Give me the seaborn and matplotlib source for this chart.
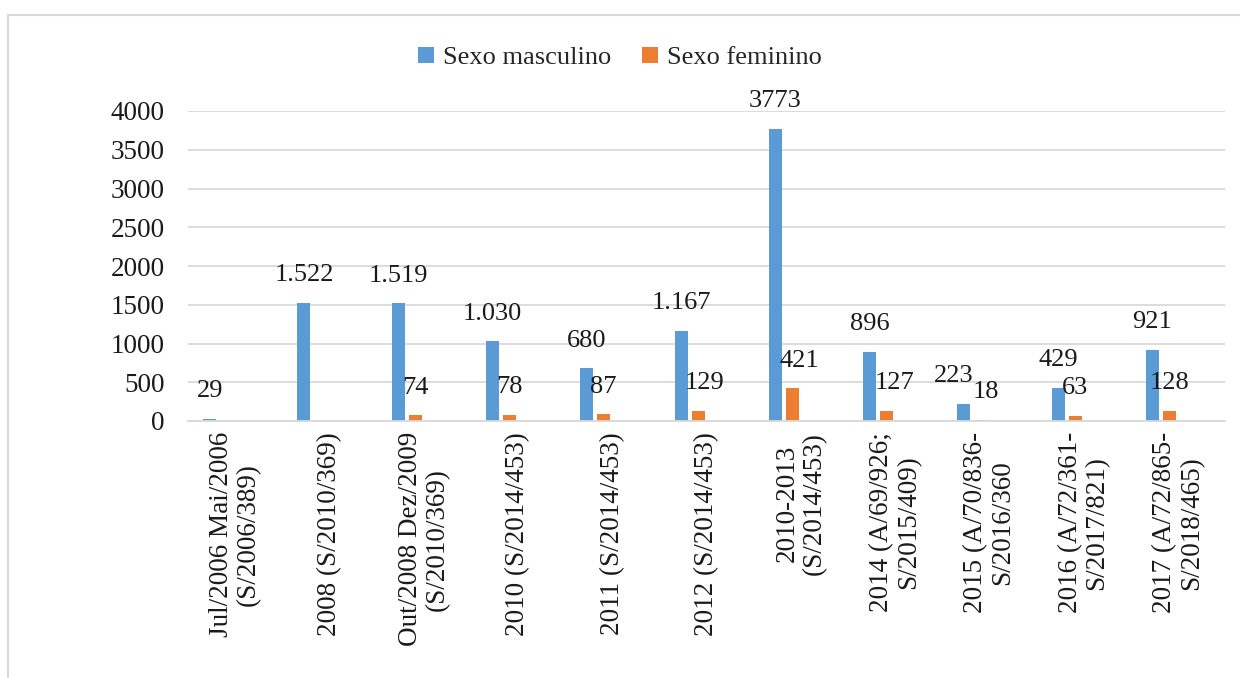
import numpy as np
import pandas as pd
import matplotlib
matplotlib.use("Agg")
import matplotlib.pyplot as plt
from matplotlib.lines import Line2D
from matplotlib.patches import Patch
import seaborn as sns

categories = [
    "Jul/2006 Mai/2006\n(S/2006/389)",
    "2008 (S/2010/369)",
    "Out/2008 Dez/2009\n(S/2010/369)",
    "2010 (S/2014/453)",
    "2011 (S/2014/453)",
    "2012 (S/2014/453)",
    "2010-2013\n(S/2014/453)",
    "2014 (A/69/926;\nS/2015/409)",
    "2015 (A/70/836-\nS/2016/360",
    "2016 (A/72/361-\nS/2017/821)",
    "2017 (A/72/865-\nS/2018/465)",
]
masculino = [29, 1522, 1519, 1030, 680, 1167, 3773, 896, 223, 429, 921]
feminino = [np.nan, np.nan, 74, 78, 87, 129, 421, 127, 18, 63, 128]
masculino_labels = ["29", "1.522", "1.519", "1.030", "680", "1.167", "3773",
                    "896", "223", "429", "921"]
feminino_labels = ["", "", "74", "78", "87", "129", "421", "127", "18", "63", "128"]
series_names = ["Sexo masculino", "Sexo feminino"]
colors = ["#5B9BD5", "#ED7D31"]
yticks = [0, 500, 1000, 1500, 2000, 2500, 3000, 3500, 4000]

df = pd.concat([
    pd.DataFrame({"periodo": categories, "sexo": series_names[0], "valor": masculino}),
    pd.DataFrame({"periodo": categories, "sexo": series_names[1], "valor": feminino}),
], ignore_index=True)

sns.set_theme(style="white")
plt.rcParams["font.family"] = ["Liberation Serif", "DejaVu Serif"]

fig = plt.figure(figsize=(12.4, 6.78), dpi=100)
ax = fig.add_axes([188 / 1240, 1 - 421 / 678, (1225 - 188) / 1240, (421 - 111) / 678])

# two extra (empty) slots in each cluster keep the clustered spacing
hue_order = series_names + [" ", "  "]
palette = {series_names[0]: colors[0], series_names[1]: colors[1], " ": "white", "  ": "white"}
sns.barplot(data=df, x="periodo", y="valor", hue="sexo", hue_order=hue_order,
            order=categories, palette=palette, width=0.72, gap=0.235,
            errorbar=None, saturation=1, legend=False, linewidth=0, ax=ax)

ax.set_ylim(0, 4000)
ax.set_xlim(-0.5, len(categories) - 0.5)
ax.set_yticks(yticks)
ax.set_yticklabels([str(v) for v in yticks], fontsize=19.5, color="#1a1a1a")
ax.yaxis.grid(True, color="#D9D9D9", linewidth=1.3)
ax.set_axisbelow(True)
for s in ["top", "right", "left"]:
    ax.spines[s].set_visible(False)
ax.spines["bottom"].set_color("#D9D9D9")
ax.spines["bottom"].set_linewidth(1.3)
ax.tick_params(axis="y", length=0, pad=17)
ax.tick_params(axis="x", length=0, pad=8)
ax.set_xticks(range(len(categories)))
ax.set_xticklabels(categories, rotation=90, fontsize=19.5, color="#1a1a1a",
                   ha="center", va="top", multialignment="center", linespacing=1.1)
ax.set_xlabel("")
ax.set_ylabel("")

# value labels above each bar; a few are nudged sideways so neighbours don't collide
nudge = {(0, 8): -7, (1, 5): 5, (1, 6): 5, (1, 7): 6, (1, 8): 4}
for s, (cont, labels) in enumerate(zip(ax.containers[:2], [masculino_labels, feminino_labels])):
    for bar in cont:
        h = bar.get_height()
        if np.isnan(h):
            continue
        xc = bar.get_x() + bar.get_width() / 2
        idx = int(round(xc))
        ax.annotate(labels[idx], (xc, h),
                    xytext=(nudge.get((s, idx), 0), 12), textcoords="offset points",
                    ha="center", va="bottom", fontsize=19, color="#1a1a1a",
                    annotation_clip=False)

handles = [Patch(facecolor=c, edgecolor="none") for c in colors]
fig.legend(handles, series_names, loc="center", bbox_to_anchor=(0.5, 1 - 58 / 678),
           ncol=2, frameon=False, fontsize=19, handlelength=0.6, handleheight=0.6,
           handletextpad=0.35, columnspacing=1.15)

# chart-area frame
fig.add_artist(Line2D([8 / 1240, 8 / 1240], [0, 1 - 15 / 678], transform=fig.transFigure,
                      color="#D9D9D9", linewidth=1.5))
fig.add_artist(Line2D([8 / 1240, 1], [1 - 15 / 678, 1 - 15 / 678], transform=fig.transFigure,
                      color="#D9D9D9", linewidth=1.5))

fig.savefig("out.png", dpi=100)
